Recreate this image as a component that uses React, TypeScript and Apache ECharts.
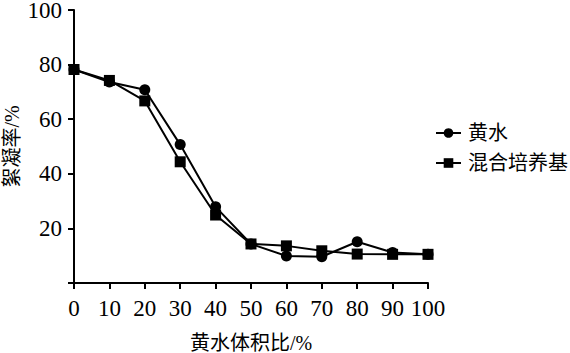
import React, { useEffect, useRef } from "react";
import * as echarts from "echarts";

const xCategories = [0, 10, 20, 30, 40, 50, 60, 70, 80, 90, 100];
const huangshui = [78.2, 73.6, 70.8, 50.7, 27.9, 14.3, 9.9, 9.6, 15.1, 11.2, 10.5];
const hunhe = [78.2, 74.2, 66.7, 44.4, 24.9, 14.3, 13.6, 11.8, 10.6, 10.5, 10.5];
const seriesNames = ["黄水", "混合培养基"];

const FONT = '"Liberation Serif", "Noto Sans CJK SC"';

export default function App() {
  const ref = useRef<HTMLDivElement>(null);
  useEffect(() => {
    if (!ref.current) return;
    const chart = echarts.init(ref.current, undefined, { renderer: "svg" });
    const axisLine = { show: true, onZero: false, lineStyle: { color: "#000", width: 2 } };
    chart.setOption({
      animation: false,
      backgroundColor: "#fff",
      textStyle: { fontFamily: FONT, color: "#000" },
      grid: {
        left: 74,
        right: 142,
        top: 10,
        bottom: 70,
        containLabel: false,
        outerBoundsMode: "none",
      },
      legend: {
        left: 430,
        top: 118,
        orient: "vertical",
        itemWidth: 25,
        itemHeight: 12,
        itemGap: 10,
        textStyle: { fontFamily: FONT, fontSize: 20, lineHeight: 20, color: "#000", padding: [0, 0, 0, 2] },
        data: seriesNames,
      },
      xAxis: {
        type: "value",
        min: 0,
        max: 100,
        interval: 10,
        name: "黄水体积比/%",
        nameLocation: "middle",
        nameGap: 51,
        nameMoveOverlap: false,
        nameTextStyle: { fontFamily: FONT, fontSize: 20, lineHeight: 18, color: "#000" },
        axisLine,
        axisTick: { show: true, inside: false, length: 6, lineStyle: { color: "#000", width: 2 } },
        axisLabel: { fontFamily: FONT, fontSize: 23, color: "#000", margin: 14 },
        splitLine: { show: false },
      },
      yAxis: {
        type: "value",
        min: 0,
        max: 100,
        interval: 20,
        name: "絮凝率/%",
        nameLocation: "middle",
        nameRotate: 90,
        nameGap: 52,
        nameMoveOverlap: false,
        nameTextStyle: { fontFamily: FONT, fontSize: 20, lineHeight: 20, color: "#000" },
        axisLine,
        axisTick: { show: true, inside: false, length: 6, lineStyle: { color: "#000", width: 2 } },
        axisLabel: {
          fontFamily: FONT,
          fontSize: 23,
          lineHeight: 18,
          color: "#000",
          margin: 12,
          formatter: (v: number) => (v === 0 ? "" : String(v)),
        },
        splitLine: { show: false },
      },
      series: [
        {
          name: seriesNames[0],
          type: "line",
          data: xCategories.map((x, i) => [x, huangshui[i]]),
          symbol: "circle",
          symbolSize: 11,
          itemStyle: { color: "#000" },
          lineStyle: { color: "#000", width: 2 },
          z: 3,
        },
        {
          name: seriesNames[1],
          type: "line",
          data: xCategories.map((x, i) => [x, hunhe[i]]),
          symbol: "rect",
          symbolSize: 11,
          itemStyle: { color: "#000" },
          lineStyle: { color: "#000", width: 2 },
          z: 2,
        },
      ],
    });
    return () => chart.dispose();
  }, []);
  return (
    <div
      ref={ref}
      style={{ position: "absolute", left: 0, top: 0, width: 570, height: 353 }}
    />
  );
}
